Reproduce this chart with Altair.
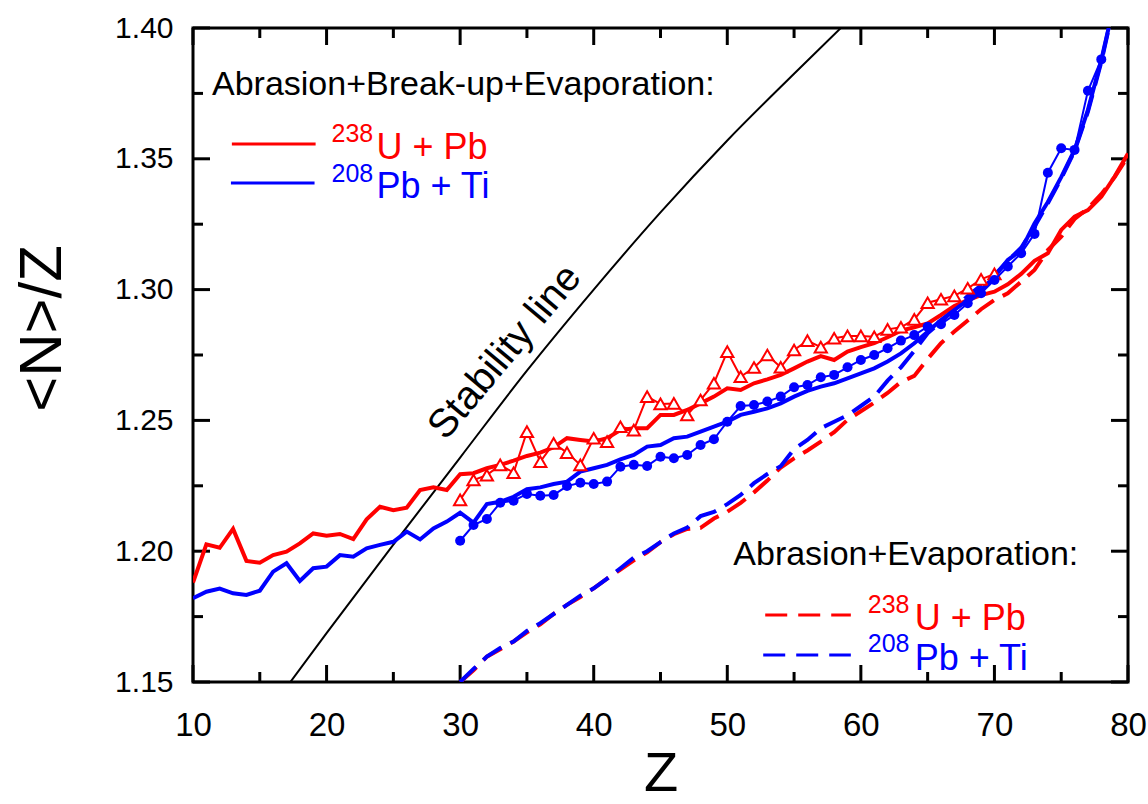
import altair as alt
import pandas as pd

FONT = "Liberation Sans"
RED = "#ff0000"
BLUE = "#0000ff"

# ---------------- data ----------------
z_red_theory = list(range(10, 81))
red_theory = [1.188, 1.2026, 1.2013, 1.2085, 1.1963, 1.1956, 1.1985, 1.1998, 1.203, 1.2068,
              1.2059, 1.2066, 1.2046, 1.2122, 1.217, 1.2157, 1.2166, 1.2234, 1.2244, 1.2234,
              1.2294, 1.2298, 1.2317, 1.233, 1.2346, 1.2364, 1.2377, 1.2397, 1.2432, 1.2425,
              1.2419, 1.2432, 1.2463, 1.247, 1.247, 1.2521, 1.2521, 1.254, 1.2565, 1.2591,
              1.2623, 1.2616, 1.2642, 1.2657, 1.2674, 1.2699, 1.2725, 1.2746, 1.2731, 1.2763,
              1.278, 1.2795, 1.2818, 1.2843, 1.2856, 1.2871, 1.2903, 1.2937, 1.296, 1.2979,
              1.2992, 1.302, 1.306, 1.311, 1.3139, 1.3228, 1.3279, 1.3304, 1.3355, 1.3432,
              1.352]

z_blue_theory = list(range(10, 80))
blue_theory = [1.182, 1.1845, 1.1857, 1.1839, 1.1833, 1.1849, 1.1922, 1.1954, 1.1886, 1.1935,
               1.1941, 1.1985, 1.1979, 1.2011, 1.2024, 1.2036, 1.2075, 1.2045, 1.2087, 1.2113,
               1.2147, 1.2109, 1.218, 1.2189, 1.2208, 1.2237, 1.2244, 1.2257, 1.2266, 1.2304,
               1.2317, 1.233, 1.2351, 1.2368, 1.24, 1.2406, 1.2432, 1.2438, 1.2457, 1.2476,
               1.2495, 1.2521, 1.2533, 1.2546, 1.2565, 1.2591, 1.2613, 1.2629, 1.2642, 1.2661,
               1.268, 1.2699, 1.2725, 1.2756, 1.2795, 1.2839, 1.2884, 1.2922, 1.296, 1.2998,
               1.3049, 1.3113, 1.3151, 1.3253, 1.3335, 1.343, 1.3534, 1.3687, 1.3878, 1.41]

z_red_exp = list(range(30, 71))
red_exp = [1.2196, 1.2272, 1.2291, 1.233, 1.23, 1.2457, 1.2342, 1.2412, 1.2377, 1.233,
           1.2432, 1.2419, 1.2476, 1.2463, 1.2591, 1.2563, 1.2565, 1.2521, 1.2578, 1.2642,
           1.2763, 1.2667, 1.2702, 1.275, 1.2703, 1.2769, 1.2805, 1.278, 1.2814, 1.2823,
           1.2823, 1.282, 1.2848, 1.2856, 1.2886, 1.295, 1.2963, 1.2976, 1.3005, 1.3039,
           1.306]

z_blue_exp = list(range(30, 79))
blue_exp = [1.204, 1.21, 1.2123, 1.2185, 1.2193, 1.2219, 1.2212, 1.2215, 1.2249, 1.2262,
            1.2257, 1.2266, 1.2323, 1.233, 1.2326, 1.2361, 1.2355, 1.2368, 1.2406, 1.2428,
            1.2495, 1.2555, 1.2559, 1.2572, 1.2591, 1.2627, 1.2635, 1.2665, 1.2674, 1.2703,
            1.2731, 1.275, 1.2776, 1.2805, 1.2826, 1.2858, 1.2868, 1.2903, 1.2948, 1.2986,
            1.3037, 1.3088, 1.3139, 1.3213, 1.3447, 1.354, 1.3534, 1.376, 1.388]

z_red_abr = list(range(30, 81))
red_abr = [1.150, 1.1545, 1.1597, 1.1625, 1.1655, 1.169, 1.172, 1.176, 1.1795, 1.1825,
           1.1858, 1.1895, 1.193, 1.1965, 1.1996, 1.2035, 1.2065, 1.2085, 1.2089, 1.2125,
           1.2151, 1.2185, 1.2225, 1.227, 1.232, 1.2355, 1.2385, 1.2419, 1.2455, 1.2502,
           1.2535, 1.2568, 1.2605, 1.2647, 1.267, 1.2735, 1.2795, 1.284, 1.2882, 1.2925,
           1.296, 1.2986, 1.303, 1.3075, 1.3151, 1.3202, 1.327, 1.331, 1.3365, 1.343,
           1.351]

z_blue_abr = list(range(30, 80))
blue_abr = [1.150, 1.155, 1.1597, 1.163, 1.1655, 1.1695, 1.1725, 1.176, 1.1795, 1.183,
            1.1858, 1.1895, 1.1935, 1.1975, 1.2, 1.2035, 1.2068, 1.209, 1.2134, 1.215,
            1.218, 1.2215, 1.226, 1.2295, 1.2325, 1.239, 1.2425, 1.247, 1.2495, 1.252,
            1.2555, 1.2591, 1.2652, 1.2703, 1.2766, 1.2833, 1.2877, 1.2925, 1.2976, 1.3016,
            1.3055, 1.311, 1.316, 1.324, 1.333, 1.3425, 1.353, 1.368, 1.387, 1.41]

z_stab = [17, 20, 25, 30, 35, 40, 45, 50, 55, 59]
stab = [1.148, 1.1687, 1.2025, 1.2358, 1.269, 1.300, 1.3295, 1.357, 1.3825, 1.4025]

x_major = [10, 20, 30, 40, 50, 60, 70, 80]
x_minor = [15, 25, 35, 45, 55, 65, 75]
y_major = [1.15, 1.20, 1.25, 1.30, 1.35, 1.40]
y_minor = [1.175, 1.225, 1.275, 1.325, 1.375]

X_DOM = [10, 80]
Y_DOM = [1.15, 1.40]
W, H = 935, 654
MAJ, MIN, HALF = 17, 10, 1.5  # tick length / half-thickness in pixels

xs = alt.Scale(domain=X_DOM, nice=False, zero=False)
ys = alt.Scale(domain=Y_DOM, nice=False, zero=False)


def df(z, v):
    return pd.DataFrame({"Z": z, "v": v})


x_axis = alt.Axis(
    values=x_major, format="d", ticks=False, tickSize=0, domain=False, grid=False,
    labelFlush=False, labelOverlap=False,
    labelFont=FONT, labelFontSize=33, labelPadding=27, labelColor="black",
    title="Z", titleFont=FONT, titleFontSize=56, titleFontWeight="normal",
    titleColor="black", titleBaseline="alphabetic", titleY=108)
y_axis = alt.Axis(
    values=y_major, format=".2f", ticks=False, tickSize=0, domain=False, grid=False,
    labelFlush=False, labelOverlap=False,
    labelFont=FONT, labelFontSize=30, labelPadding=20, labelColor="black",
    title="<N>/Z", titleFont=FONT, titleFontSize=60, titleFontWeight="normal",
    titleColor="black", titleAngle=270, titleBaseline="alphabetic",
    titleX=-133, titleY=300)

Xp = alt.X("Z:Q", scale=xs)
Yp = alt.Y("v:Q", scale=ys)

# ---------------- inward frame ticks as small filled rectangles ----------------
dy = (Y_DOM[1] - Y_DOM[0]) / H
dx = (X_DOM[1] - X_DOM[0]) / W
rows = []
for vals, L in ((x_major, MAJ), (x_minor, MIN)):
    for z in vals:
        rows.append({"a": z - HALF * dx, "a2": z + HALF * dx, "b": Y_DOM[0], "b2": Y_DOM[0] + L * dy})
        rows.append({"a": z - HALF * dx, "a2": z + HALF * dx, "b": Y_DOM[1] - L * dy, "b2": Y_DOM[1]})
for vals, L in ((y_major, MAJ), (y_minor, MIN)):
    for v in vals:
        rows.append({"a": X_DOM[0], "a2": X_DOM[0] + L * dx, "b": v - HALF * dy, "b2": v + HALF * dy})
        rows.append({"a": X_DOM[1] - L * dx, "a2": X_DOM[1], "b": v - HALF * dy, "b2": v + HALF * dy})
tick_df = pd.DataFrame(rows)

ticks = alt.Chart(tick_df).mark_rect(color="black", opacity=1).encode(
    x=alt.X("a:Q", scale=xs, axis=x_axis), x2="a2:Q",
    y=alt.Y("b:Q", scale=ys, axis=y_axis), y2="b2:Q")

stab_line = alt.Chart(df(z_stab, stab)).mark_line(
    color="black", strokeWidth=2, clip=True, interpolate="monotone").encode(Xp, Yp)

red_dash = alt.Chart(df(z_red_abr, red_abr)).mark_line(
    color=RED, strokeWidth=4, strokeDash=[22, 10], clip=True).encode(Xp, Yp)
blue_dash = alt.Chart(df(z_blue_abr, blue_abr)).mark_line(
    color=BLUE, strokeWidth=4, strokeDash=[22, 10], clip=True).encode(Xp, Yp)

red_solid = alt.Chart(df(z_red_theory, red_theory)).mark_line(
    color=RED, strokeWidth=4, clip=True).encode(Xp, Yp)
blue_solid = alt.Chart(df(z_blue_theory, blue_theory)).mark_line(
    color=BLUE, strokeWidth=4, clip=True).encode(Xp, Yp)

red_exp_line = alt.Chart(df(z_red_exp, red_exp)).mark_line(
    color=RED, strokeWidth=2, clip=True).encode(Xp, Yp)
red_exp_pts = alt.Chart(df(z_red_exp, red_exp)).mark_point(
    shape="triangle-up", filled=True, fill="white", stroke=RED, strokeWidth=2,
    size=150, opacity=1, clip=True).encode(Xp, Yp)

blue_exp_line = alt.Chart(df(z_blue_exp, blue_exp)).mark_line(
    color=BLUE, strokeWidth=2, clip=True).encode(Xp, Yp)
blue_exp_pts = alt.Chart(df(z_blue_exp, blue_exp)).mark_circle(
    color=BLUE, size=100, opacity=1, clip=True).encode(Xp, Yp)

# ---------------- annotations ----------------
title1 = alt.Chart(pd.DataFrame({"Z": [11.42], "v": [1.3744], "t": ["Abrasion+Break-up+Evaporation:"]})).mark_text(
    font=FONT, fontSize=34, align="left", baseline="alphabetic", color="black").encode(Xp, Yp, text="t:N")
title2 = alt.Chart(pd.DataFrame({"Z": [50.45], "v": [1.19473], "t": ["Abrasion+Evaporation:"]})).mark_text(
    font=FONT, fontSize=34, align="left", baseline="alphabetic", color="black").encode(Xp, Yp, text="t:N")
stab_txt = alt.Chart(pd.DataFrame({"Z": [33.36], "v": [1.2761], "t": ["Stability line"]})).mark_text(
    font=FONT, fontSize=40, align="center", baseline="middle", angle=310, color="black").encode(Xp, Yp, text="t:N")

leg_z1 = [12.91, 12.84, 52.84, 52.69]
leg_z2 = [19.18, 19.10, 59.25, 59.25]
leg_v = [1.35566, 1.34075, 1.17561, 1.16032]


def seg(i, color, dash):
    kw = dict(color=color, strokeWidth=3)
    if dash:
        kw["strokeDash"] = [22, 11]
    return alt.Chart(pd.DataFrame({"Z": [leg_z1[i]], "Z2": [leg_z2[i]], "v": [leg_v[i]]})).mark_rule(**kw).encode(
        x=alt.X("Z:Q", scale=xs), x2="Z2:Q", y=alt.Y("v:Q", scale=ys))


sup_z = [20.37, 20.37, 60.52, 60.52]
sup_v = [1.35642, 1.34125, 1.17638, 1.16147]
sup_t = ["238", "208", "238", "208"]
main_z = [23.73, 23.73, 64.03, 64.03]
main_v = [1.34992, 1.33513, 1.16988, 1.15459]
main_t = ["U + Pb", "Pb + Ti", "U + Pb", "Pb + Ti"]
lab_c = [RED, BLUE, RED, BLUE]


def lab(z, v, t, c, size):
    return alt.Chart(pd.DataFrame({"Z": [z], "v": [v], "t": [t]})).mark_text(
        font=FONT, fontSize=size, align="left", baseline="alphabetic", color=c).encode(Xp, Yp, text="t:N")


legend = [seg(0, RED, False), seg(1, BLUE, False), seg(2, RED, True), seg(3, BLUE, True)]
for i in range(4):
    legend.append(lab(sup_z[i], sup_v[i], sup_t[i], lab_c[i], 25))
    legend.append(lab(main_z[i], main_v[i], main_t[i], lab_c[i], 36))

chart = alt.layer(
    ticks, stab_line, red_dash, blue_dash, red_solid, blue_solid,
    red_exp_line, red_exp_pts, blue_exp_line, blue_exp_pts,
    title1, title2, stab_txt, *legend
).properties(
    width=W, height=H,
    autosize=alt.AutoSizeParams(type="none"),
    padding={"left": 193, "top": 28, "right": 20, "bottom": 122},
    background="white",
).configure_view(stroke="black", strokeWidth=3)

chart.save("out.html", embed_options={"renderer": "svg", "actions": False})
